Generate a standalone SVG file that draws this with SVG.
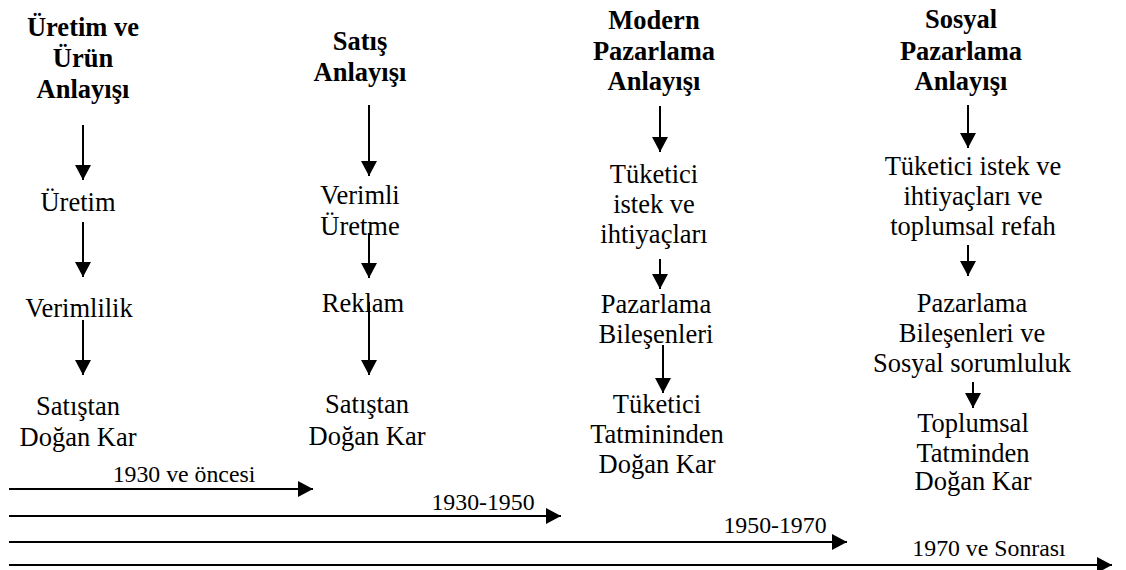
<svg xmlns="http://www.w3.org/2000/svg" width="1126" height="570" viewBox="0 0 1126 570" font-family="'Liberation Serif', serif">
  <defs>
    <marker id="head" markerUnits="userSpaceOnUse" markerWidth="16" markerHeight="16" refX="15" refY="8" orient="auto">
      <path d="M0,0 L15,8 L0,16 Z" fill="#000"/>
    </marker>
    <style>
      text { fill: #000; text-anchor: middle; font-family: "Liberation Serif", serif; }
      .title { font-size: 26.5px; font-weight: bold; }
      .body { font-size: 26.5px; }
      .era { font-size: 23.8px; }
      .arrow { stroke: #000; stroke-width: 2; fill: none; marker-end: url(#head); }
    </style>
  </defs>
  <rect width="1126" height="570" fill="#fff"/>

  <!-- Column 1: production and product concept -->
  <g id="uretim-title">
    <text class="title" x="83" y="36">Üretim ve</text>
    <text class="title" x="83" y="67">Ürün</text>
    <text class="title" x="83" y="98">Anlayışı</text>
  </g>
  <g id="uretim-1"><text class="body" x="78" y="211">Üretim</text></g>
  <g id="uretim-2"><text class="body" x="79" y="317">Verimlilik</text></g>
  <g id="uretim-3">
    <text class="body" x="78" y="415">Satıştan</text>
    <text class="body" x="78" y="446">Doğan Kar</text>
  </g>

  <!-- Column 2: selling concept -->
  <g id="satis-title">
    <text class="title" x="360" y="50">Satış</text>
    <text class="title" x="360" y="81">Anlayışı</text>
  </g>
  <g id="satis-1">
    <text class="body" x="360" y="204">Verimli</text>
    <text class="body" x="360" y="235">Üretme</text>
  </g>
  <g id="satis-2"><text class="body" x="363" y="312">Reklam</text></g>
  <g id="satis-3">
    <text class="body" x="367" y="413">Satıştan</text>
    <text class="body" x="367" y="445">Doğan Kar</text>
  </g>

  <!-- Column 3: modern marketing concept -->
  <g id="modern-title">
    <text class="title" x="654" y="29">Modern</text>
    <text class="title" x="654" y="60">Pazarlama</text>
    <text class="title" x="654" y="90">Anlayışı</text>
  </g>
  <g id="modern-1">
    <text class="body" x="654" y="183">Tüketici</text>
    <text class="body" x="654" y="213">istek ve</text>
    <text class="body" x="654" y="243">ihtiyaçları</text>
  </g>
  <g id="modern-2">
    <text class="body" x="656" y="313">Pazarlama</text>
    <text class="body" x="656" y="343">Bileşenleri</text>
  </g>
  <g id="modern-3">
    <text class="body" x="657" y="413">Tüketici</text>
    <text class="body" x="657" y="443">Tatmininden</text>
    <text class="body" x="657" y="473">Doğan Kar</text>
  </g>

  <!-- Column 4: societal marketing concept -->
  <g id="sosyal-title">
    <text class="title" x="961" y="28">Sosyal</text>
    <text class="title" x="961" y="60">Pazarlama</text>
    <text class="title" x="961" y="90">Anlayışı</text>
  </g>
  <g id="sosyal-1">
    <text class="body" x="973" y="175">Tüketici istek ve</text>
    <text class="body" x="973" y="205">ihtiyaçları ve</text>
    <text class="body" x="973" y="235">toplumsal refah</text>
  </g>
  <g id="sosyal-2">
    <text class="body" x="972" y="312">Pazarlama</text>
    <text class="body" x="972" y="342">Bileşenleri ve</text>
    <text class="body" x="972" y="372">Sosyal sorumluluk</text>
  </g>
  <g id="sosyal-3">
    <text class="body" x="973" y="432">Toplumsal</text>
    <text class="body" x="973" y="462">Tatminden</text>
    <text class="body" x="973" y="490">Doğan Kar</text>
  </g>

  <!-- Era labels on the timeline -->
  <g id="eras">
    <text class="era" x="184" y="482">1930 ve öncesi</text>
    <text class="era" x="483" y="510">1930-1950</text>
    <text class="era" x="775" y="533">1950-1970</text>
    <text class="era" x="989" y="556">1970 ve Sonrası</text>
  </g>

  <!-- Connectors -->
  <g id="connectors">
    <line class="arrow" x1="83" y1="125" x2="83" y2="180"/>
    <line class="arrow" x1="83" y1="222" x2="83" y2="277"/>
    <line class="arrow" x1="83" y1="320" x2="83" y2="375"/>

    <line class="arrow" x1="369" y1="105" x2="369" y2="176"/>
    <line class="arrow" x1="369" y1="233" x2="369" y2="278"/>
    <line class="arrow" x1="369" y1="302" x2="369" y2="375"/>

    <line class="arrow" x1="660" y1="106" x2="660" y2="152"/>
    <line class="arrow" x1="660" y1="259" x2="660" y2="289"/>
    <line class="arrow" x1="663" y1="345" x2="663" y2="393"/>

    <line class="arrow" x1="968" y1="105" x2="968" y2="148"/>
    <line class="arrow" x1="968" y1="245" x2="968" y2="276"/>
    <line class="arrow" x1="973" y1="382" x2="973" y2="408"/>

    <!-- timeline -->
    <line class="arrow" x1="9" y1="489" x2="313" y2="489"/>
    <line class="arrow" x1="9" y1="516" x2="561" y2="516"/>
    <line class="arrow" x1="9" y1="542" x2="847" y2="542"/>
    <line class="arrow" x1="9" y1="565" x2="1112" y2="565"/>
  </g>
</svg>
